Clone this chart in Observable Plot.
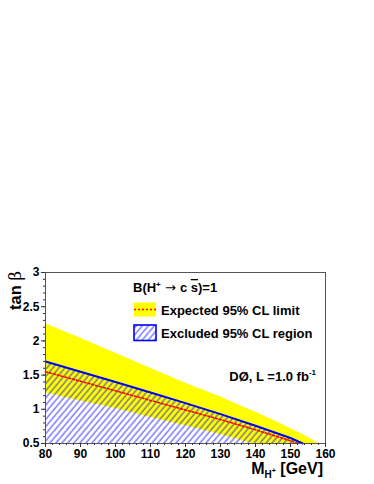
<!DOCTYPE html>
<html><head><meta charset="utf-8">
<script src="https://cdn.jsdelivr.net/npm/d3@7"></script>
<script src="https://cdn.jsdelivr.net/npm/@observablehq/plot@0.6"></script>
<style>
body{margin:0;background:#fff;}
svg{display:block;}
</style>
</head><body><div id="chart"></div>
<script>
// Expected 95% CL band (yellow)
const bandMass = [80, 90, 100, 110, 120, 130, 139, 140, 150, 155, 158];
const bandHigh = [2.25, 2.04, 1.82, 1.60, 1.38, 1.18, 0.98, 0.96, 0.72, 0.59, 0.5];
const bandLow  = [1.24, 1.12, 1.01, 0.88, 0.76, 0.63, 0.5, 0.5, 0.5, 0.5, 0.5];
// Observed limit (blue line, hatched below)
const obsMass = [80, 90, 100, 110, 120, 130, 140, 150, 153.5];
const obsTan  = [1.70, 1.55, 1.40, 1.245, 1.09, 0.93, 0.76, 0.58, 0.5];
// Expected limit (red dotted)
const expMass = [80, 90, 100, 110, 120, 130, 140, 150, 152];
const expTan  = [1.55, 1.41, 1.27, 1.13, 0.99, 0.85, 0.70, 0.54, 0.5];
// Ticks
const xTicks = [80, 90, 100, 110, 120, 130, 140, 150, 160];
const yTicks = [0.5, 1, 1.5, 2, 2.5, 3];
const xMinor = d3.range(0, 41).map(i => 80 + 2 * i);
const yMinor = d3.range(0, 26).map(i => +(0.5 + 0.1 * i).toFixed(2));

const band = bandMass.map((m, i) => ({m, lo: bandLow[i], hi: bandHigh[i]}));
const obs = obsMass.map((m, i) => ({m, t: obsTan[i]}));
const exp = expMass.map((m, i) => ({m, t: expTan[i]}));

const font = "'Liberation Sans', Arial, Helvetica, sans-serif";

const svg = Plot.plot({
  width: 374, height: 484,
  marginLeft: 45, marginRight: 49, marginTop: 272, marginBottom: 41,
  style: {fontFamily: font, background: "#fff", overflow: "visible"},
  x: {domain: [80, 160]},
  y: {domain: [0.5, 3]},
  marks: [
    Plot.areaY(band, {x: "m", y1: "lo", y2: "hi", fill: "#ffff00"}),
    Plot.areaY(obs, {x: "m", y1: 0.5, y2: "t", fill: "url(#hatch)"}),
    Plot.line(exp, {x: "m", y: "t", stroke: "#ff0000", strokeWidth: 1.6, strokeDasharray: "2,2"}),
    Plot.line(obs, {x: "m", y: "t", stroke: "#0000ff", strokeWidth: 2}),
    Plot.frame({stroke: "#555", strokeWidth: 1}),
    Plot.axisX({ticks: xTicks, tickSize: 4, tickPadding: 2, tickFormat: d => String(d), fontSize: 12, fontWeight: "bold", label: null, stroke: "#333"}),
    Plot.axisX({ticks: xMinor, tickSize: 2, tickFormat: () => "", label: null, stroke: "#333"}),
    Plot.axisY({ticks: yTicks, tickSize: 4, tickPadding: 2, tickFormat: d => String(d), fontSize: 12, fontWeight: "bold", label: null, stroke: "#333"}),
    Plot.axisY({ticks: yMinor, tickSize: 2, tickFormat: () => "", label: null, stroke: "#333"})
  ]
});

const s = d3.select(svg);
const defs = s.insert("defs", ":first-child");
const pat = defs.append("pattern").attr("id", "hatch").attr("patternUnits", "userSpaceOnUse")
  .attr("width", 4.6).attr("height", 4.6).attr("patternTransform", "rotate(40)");
pat.append("line").attr("x1", 1).attr("y1", -1).attr("x2", 1).attr("y2", 6)
  .attr("stroke", "#0000ff").attr("stroke-opacity", 0.7).attr("stroke-width", 1.1);

const g = s.append("g").attr("font-family", font).attr("font-weight", "bold")
  .attr("fill", "#000").attr("text-anchor", "start");

// Legend
const t1 = g.append("text").attr("x", 133).attr("y", 292).attr("font-size", 13);
t1.append("tspan").text("B(H");
t1.append("tspan").attr("font-size", 8).attr("dy", -5).text("+");
t1.append("tspan").attr("dy", 5).attr("font-weight", "normal").attr("font-family", "'DejaVu Sans', sans-serif").text(" \u2192 ");
t1.append("tspan").text("c ");
t1.append("tspan").style("text-decoration", "overline").text("s");
t1.append("tspan").text(")=1");

g.append("rect").attr("x", 134).attr("y", 302.5).attr("width", 22).attr("height", 14).attr("fill", "#ffff00");
g.append("line").attr("x1", 134).attr("x2", 156).attr("y1", 309.5).attr("y2", 309.5)
  .attr("stroke", "#ff0000").attr("stroke-width", 1.6).attr("stroke-dasharray", "2,2");
g.append("text").attr("x", 161).attr("y", 315).attr("font-size", 13).text("Expected 95% CL limit");

g.append("rect").attr("x", 134).attr("y", 325).attr("width", 22).attr("height", 15.5)
  .attr("fill", "url(#hatch)").attr("stroke", "#0000ff").attr("stroke-width", 1.6);
g.append("text").attr("x", 161).attr("y", 337.5).attr("font-size", 13).text("Excluded 95% CL region");

const t2 = g.append("text").attr("x", 316).attr("y", 381).attr("font-size", 13).attr("text-anchor", "end");
t2.append("tspan").text("D\u00D8, L =1.0 fb");
t2.append("tspan").attr("font-size", 8).attr("dy", -6).text("-1");

// Axis titles
const xt = g.append("text").attr("x", 323).attr("y", 474).attr("font-size", 16).attr("text-anchor", "end");
xt.append("tspan").text("M");
xt.append("tspan").attr("font-size", 10).attr("dy", 4).text("H");
xt.append("tspan").attr("font-size", 7).attr("dy", -5).text("+");
xt.append("tspan").attr("dy", 1).text(" [GeV]");

const yt = g.append("text").attr("transform", "translate(21,271) rotate(-90)").attr("font-size", 16.5).attr("text-anchor", "end");
yt.append("tspan").text("tan ");
yt.append("tspan").attr("font-weight", "normal").attr("font-family", "'DejaVu Serif', serif").text("\u03B2");

document.getElementById("chart").appendChild(svg);
</script>
</body></html>
